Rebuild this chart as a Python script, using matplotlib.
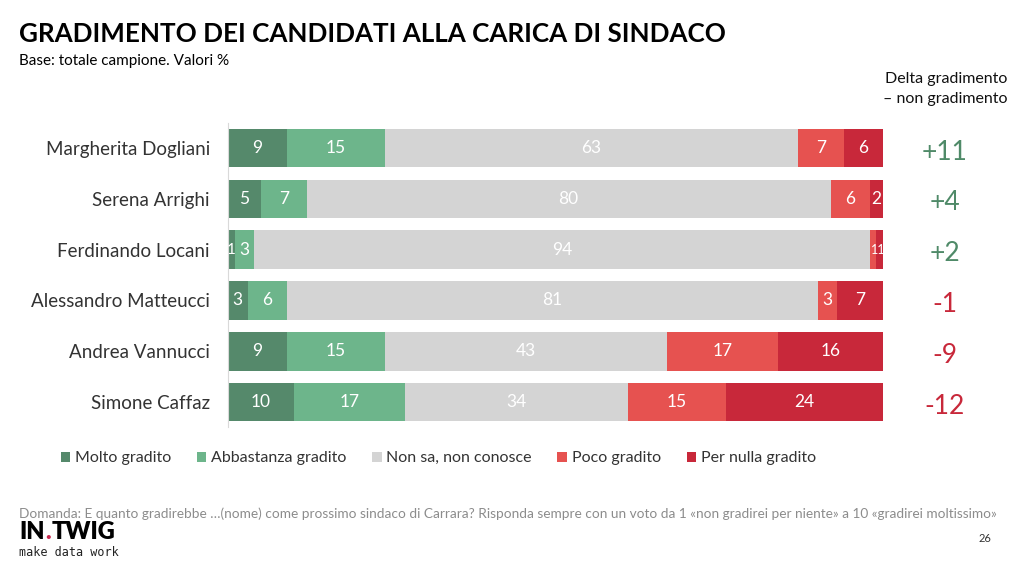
import matplotlib
matplotlib.use("Agg")
import matplotlib.pyplot as plt
import numpy as np

plt.rcParams['font.family'] = ['Lato', 'DejaVu Sans']

candidati = ["Margherita Dogliani", "Serena Arrighi", "Ferdinando Locani",
             "Alessandro Matteucci", "Andrea Vannucci", "Simone Caffaz"]
categorie = ["Molto gradito", "Abbastanza gradito", "Non sa, non conosce",
             "Poco gradito", "Per nulla gradito"]
molto = [9, 5, 1, 3, 9, 10]
abbastanza = [15, 7, 3, 6, 15, 17]
non_sa = [63, 80, 94, 81, 43, 34]
poco = [7, 6, 1, 3, 17, 15]
per_nulla = [6, 2, 1, 7, 16, 24]
delta = ["+11", "+4", "+2", "-1", "-9", "-12"]

colori = ["#55896b", "#6db58b", "#d4d4d4", "#e65250", "#c8283a"]
verde_delta = "#4f8a68"
rosso_delta = "#c8283a"

fig = plt.figure(figsize=(10.24, 5.68), dpi=100)
ax = fig.add_axes([0.2227, 0.2475, 0.6396, 0.5366])

serie = [molto, abbastanza, non_sa, poco, per_nulla]
y = np.arange(len(candidati))
left = np.zeros(len(candidati))
for vals, col, nome in zip(serie, colori, categorie):
    vals = np.array(vals, dtype=float)
    ax.barh(y, vals, left=left, height=0.76, color=col, label=nome, linewidth=0)
    for yi, (l, v) in enumerate(zip(left, vals)):
        if v <= 1:
            continue
        ax.text(l + v / 2, yi, f"{int(v)}", ha="center", va="center",
                color="white", fontsize=12.5)
    left += vals

# valori piccoli nella riga di Locani
ax.text(0.5, 2, "1", ha="center", va="center", color="white", fontsize=11)
ax.text(99.2, 2, "11", ha="center", va="center", color="white", fontsize=9)

ax.set_xlim(0, 100)
ax.set_ylim(5.5, -0.5)
ax.set_yticks(y)
ax.set_yticklabels(candidati, fontsize=13.5, color="#333333")
ax.tick_params(axis="y", length=0, pad=13)
ax.set_xticks([])
for s in ["top", "right", "bottom"]:
    ax.spines[s].set_visible(False)
ax.spines["left"].set_color("#d9d9d9")
ax.spines["left"].set_linewidth(0.8)

for yi, d in enumerate(delta):
    col = verde_delta if d.startswith("+") else rosso_delta
    ax.text(109.4, yi + 0.08, d, ha="center", va="center", color=col, fontsize=19)

fig.text(0.984, 0.843, "Delta gradimento\n– non gradimento", ha="right", va="center",
         fontsize=11.5, color="#111111", linespacing=1.55)

fig.text(0.019, 0.94, "GRADIMENTO DEI CANDIDATI ALLA CARICA DI SINDACO",
         fontsize=18.7, fontweight="bold", ha="left", va="center", color="black")
fig.text(0.019, 0.893, "Base: totale campione. Valori %", fontsize=11,
         ha="left", va="center", color="black")

fig.legend(loc="center", bbox_to_anchor=(0.428, 0.193), ncol=5, frameon=False,
           fontsize=11.5, handlelength=0.6, handleheight=0.6, handletextpad=0.3,
           columnspacing=1.6, labelcolor="#333333")

fig.text(0.019, 0.096, "Domanda: E quanto gradirebbe …(nome) come prossimo sindaco di Carrara? "
         "Risponda sempre con un voto da 1 «non gradirei per niente» a 10 «gradirei moltissimo»",
         fontsize=9.85, color="#8c8c8c", ha="left", va="center")
fig.text(0.962, 0.052, "26", fontsize=8, color="#333333", ha="center", va="center")

# logo: pezzi affiancati usando le misure reali del testo
renderer = fig.canvas.get_renderer()
x = 0.019
for pezzo, col in [("IN", "black"), (".", "#c8284f"), ("TWIG", "black")]:
    t = fig.text(x, 0.063, pezzo, fontsize=17, fontweight="heavy", ha="left",
                 va="center", color=col)
    bb = t.get_window_extent(renderer).transformed(fig.transFigure.inverted())
    x = bb.x1 + 0.0005
fig.text(0.019, 0.028, "make data work", fontsize=8.5, ha="left", va="center",
         color="#222222", family=["DejaVu Sans Mono", "DejaVu Sans"])

fig.savefig("out.png", dpi=100)
